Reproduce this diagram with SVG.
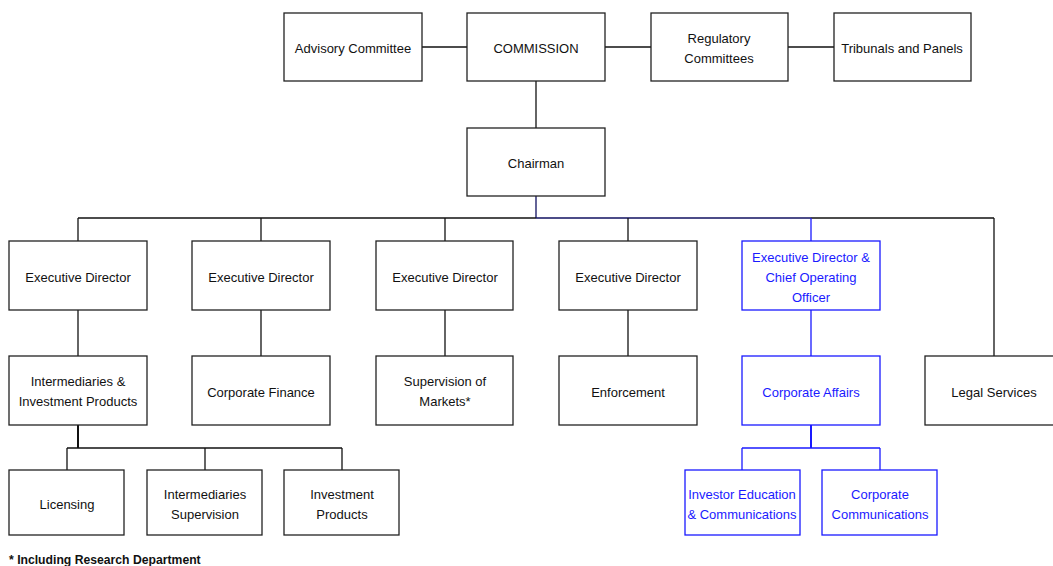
<svg xmlns="http://www.w3.org/2000/svg" width="1053" height="566" viewBox="0 0 1053 566">
<style>
rect{fill:#fff;stroke:#222;stroke-width:1.3}
.b rect{stroke:#1a1aff}
text{font-family:"Liberation Sans",Arial,sans-serif;font-size:13px;fill:#111;text-anchor:middle}
.b text{fill:#1a1aff}
.c line{stroke:#111;stroke-width:1.3}
.c .bl{stroke:#1a1aff}
.c .nv{stroke:#101060}
.c .tk{stroke-width:2}
.fn{font-size:12.2px;font-weight:bold;text-anchor:start}
</style>
<rect x="0" y="0" width="1053" height="566" style="stroke:none"/>
<g class="c" id="connectors">
<line x1="422" y1="47" x2="467" y2="47"/>
<line x1="605" y1="47" x2="651" y2="47"/>
<line x1="788" y1="47" x2="834" y2="47"/>
<line x1="536" y1="81" x2="536" y2="128"/>
<line class="nv" x1="536" y1="196" x2="536" y2="218"/>
<line x1="78" y1="218" x2="536" y2="218"/>
<line class="nv" x1="536" y1="218" x2="811" y2="218"/>
<line x1="811" y1="218" x2="994" y2="218"/>
<line x1="78" y1="218" x2="78" y2="241"/>
<line x1="261" y1="218" x2="261" y2="241"/>
<line x1="445" y1="218" x2="445" y2="241"/>
<line x1="628" y1="218" x2="628" y2="241"/>
<line class="bl" x1="811" y1="218" x2="811" y2="241"/>
<line x1="994" y1="218" x2="994" y2="356"/>
<line x1="78" y1="310" x2="78" y2="356"/>
<line x1="261" y1="310" x2="261" y2="356"/>
<line x1="445" y1="310" x2="445" y2="356"/>
<line x1="628" y1="310" x2="628" y2="356"/>
<line class="bl" x1="811" y1="310" x2="811" y2="356"/>
<line class="tk" x1="78" y1="425" x2="78" y2="448"/>
<line x1="67" y1="448" x2="342" y2="448"/>
<line x1="67" y1="448" x2="67" y2="470"/>
<line x1="205" y1="448" x2="205" y2="470"/>
<line x1="342" y1="448" x2="342" y2="470"/>
<line class="bl tk" x1="811" y1="425" x2="811" y2="448"/>
<line class="bl" x1="742" y1="448" x2="880" y2="448"/>
<line class="bl" x1="742" y1="448" x2="742" y2="470"/>
<line class="bl" x1="880" y1="448" x2="880" y2="470"/>
</g>
<g id="advisory"><rect x="284" y="13" width="138" height="68"/><text x="353" y="53">Advisory Committee</text></g>
<g id="commission"><rect x="467" y="13" width="138" height="68"/><text x="536" y="53">COMMISSION</text></g>
<g id="regulatory"><rect x="651" y="13" width="137" height="68"/><text x="719" y="43">Regulatory</text><text x="719" y="63">Committees</text></g>
<g id="tribunals"><rect x="834" y="13" width="137" height="68"/><text x="902" y="53">Tribunals and Panels</text></g>
<g id="chairman"><rect x="467" y="128" width="138" height="68"/><text x="536" y="168">Chairman</text></g>
<g id="ed1"><rect x="9" y="241" width="138" height="69"/><text x="78" y="282">Executive Director</text></g>
<g id="ed2"><rect x="192" y="241" width="138" height="69"/><text x="261" y="282">Executive Director</text></g>
<g id="ed3"><rect x="376" y="241" width="137" height="69"/><text x="445" y="282">Executive Director</text></g>
<g id="ed4"><rect x="559" y="241" width="138" height="69"/><text x="628" y="282">Executive Director</text></g>
<g id="edcoo" class="b"><rect x="742" y="241" width="138" height="69"/><text x="811" y="262">Executive Director &amp;</text><text x="811" y="282">Chief Operating</text><text x="811" y="302">Officer</text></g>
<g id="intermediaries"><rect x="9" y="356" width="138" height="69"/><text x="78" y="386">Intermediaries &amp;</text><text x="78" y="406">Investment Products</text></g>
<g id="corpfinance"><rect x="192" y="356" width="138" height="69"/><text x="261" y="397">Corporate Finance</text></g>
<g id="supervision"><rect x="376" y="356" width="137" height="69"/><text x="445" y="386">Supervision of</text><text x="445" y="406">Markets*</text></g>
<g id="enforcement"><rect x="559" y="356" width="138" height="69"/><text x="628" y="397">Enforcement</text></g>
<g id="corpaffairs" class="b"><rect x="742" y="356" width="138" height="69"/><text x="811" y="397">Corporate Affairs</text></g>
<g id="legal"><rect x="925" y="356" width="138" height="69"/><text x="994" y="397">Legal Services</text></g>
<g id="licensing"><rect x="9" y="470" width="115" height="65"/><text x="67" y="509">Licensing</text></g>
<g id="intsup"><rect x="147" y="470" width="115" height="65"/><text x="205" y="499">Intermediaries</text><text x="205" y="519">Supervision</text></g>
<g id="invprod"><rect x="284" y="470" width="115" height="65"/><text x="342" y="499">Investment</text><text x="342" y="519">Products</text></g>
<g id="investored" class="b"><rect x="685" y="470" width="115" height="65"/><text x="742" y="499">Investor Education</text><text x="742" y="519">&amp; Communications</text></g>
<g id="corpcomm" class="b"><rect x="822" y="470" width="115" height="65"/><text x="880" y="499">Corporate</text><text x="880" y="519">Communications</text></g>
<text class="fn" x="9" y="564">* Including Research Department</text>
</svg>
